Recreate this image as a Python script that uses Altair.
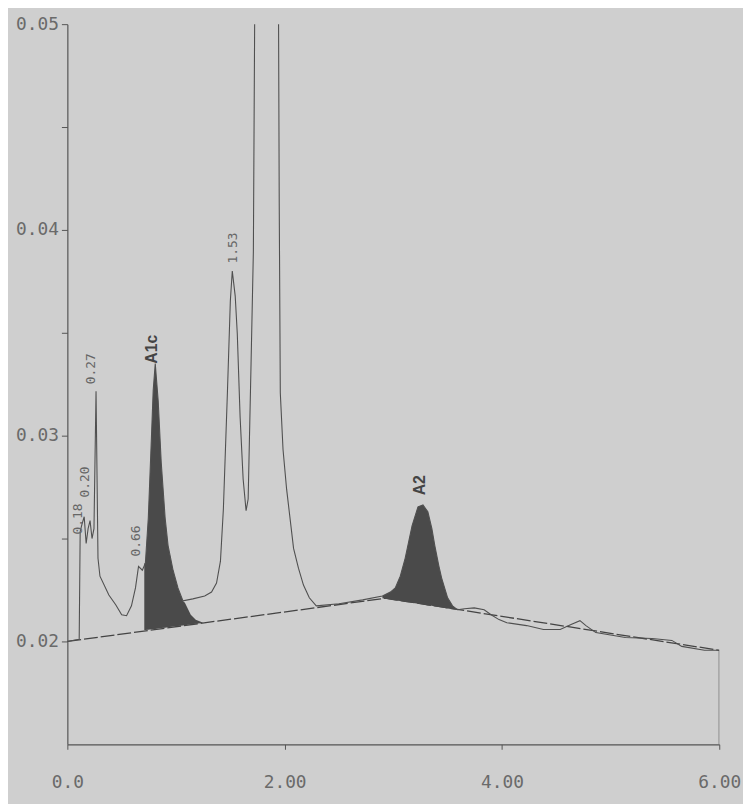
import altair as alt
import pandas as pd

# ---- main detector trace (time in min, absorbance) ----
trace_t = [0.000, 0.109, 0.118, 0.136, 0.155, 0.173, 0.191, 0.209, 0.227, 0.245,
           0.264, 0.282, 0.300, 0.382, 0.445, 0.500, 0.545, 0.590, 0.627, 0.655,
           0.690, 0.718, 0.745, 0.773, 0.790, 0.809, 0.836, 0.864, 0.900, 0.927,
           0.973, 1.018, 1.064, 1.155, 1.264, 1.327, 1.373, 1.409, 1.436, 1.455,
           1.473, 1.500, 1.518, 1.545, 1.564, 1.590, 1.618, 1.645, 1.664, 1.690,
           1.712, 1.745, 1.840, 1.930, 1.950, 1.960, 1.985, 2.018, 2.082, 2.127,
           2.173, 2.227, 2.291, 2.500, 2.718, 2.900, 2.973, 3.018, 3.064, 3.109,
           3.173, 3.227, 3.273, 3.318, 3.355, 3.382, 3.418, 3.445, 3.500, 3.545,
           3.590, 3.655, 3.745, 3.836, 3.900, 3.973, 4.045, 4.227, 4.382, 4.536,
           4.636, 4.718, 4.773, 4.864, 5.136, 5.382, 5.564, 5.655, 5.864, 6.000,
           6.000]
trace_v = [0.02000, 0.02010, 0.02534, 0.02572, 0.02606, 0.02476, 0.02548, 0.02587, 0.02500, 0.02548,
           0.03216, 0.02404, 0.02317, 0.02226, 0.02178, 0.02130, 0.02125, 0.02173, 0.02260, 0.02365,
           0.02346, 0.02380, 0.02600, 0.02980, 0.03220, 0.03350, 0.03170, 0.02870, 0.02600, 0.02466,
           0.02346, 0.02260, 0.02197, 0.02207, 0.02221, 0.02240, 0.02284, 0.02390, 0.02644, 0.02933,
           0.03207, 0.03654, 0.03800, 0.03678, 0.03495, 0.03091, 0.02788, 0.02635, 0.02692, 0.03332,
           0.03894, 0.07000, 0.12000, 0.07000, 0.04135, 0.03207, 0.02933, 0.02740, 0.02452, 0.02356,
           0.02274, 0.02212, 0.02173, 0.02183, 0.02202, 0.02221, 0.02240, 0.02260, 0.02317, 0.02404,
           0.02563, 0.02654, 0.02663, 0.02630, 0.02548, 0.02466, 0.02370, 0.02308, 0.02212, 0.02173,
           0.02154, 0.02159, 0.02163, 0.02154, 0.02130, 0.02106, 0.02091, 0.02077, 0.02058, 0.02058,
           0.02082, 0.02101, 0.02077, 0.02043, 0.02019, 0.02014, 0.02005, 0.01976, 0.01957, 0.01957,
           0.01500]

# ---- integration baseline ----
base_t = [0.0, 2.93, 6.0]
base_v = [0.0200, 0.0221, 0.01957]

# ---- shaded peak areas ----
a1c_t = [0.708, 0.718, 0.745, 0.773, 0.790, 0.809, 0.836, 0.864, 0.900, 0.927,
         0.973, 1.018, 1.064, 1.082, 1.136, 1.182, 1.245]
a1c_top = [0.02380, 0.02380, 0.02600, 0.02980, 0.03220, 0.03350, 0.03170, 0.02870, 0.02600, 0.02466,
           0.02346, 0.02260, 0.02197, 0.02188, 0.02130, 0.02106, 0.02092]
a1c_base = [0.02055, 0.02055, 0.02057, 0.02059, 0.02060, 0.02061, 0.02063, 0.02065, 0.02067, 0.02069,
            0.02072, 0.02075, 0.02078, 0.02079, 0.02083, 0.02086, 0.02090]

a2_t = [2.900, 2.973, 3.018, 3.064, 3.109, 3.173, 3.227, 3.273, 3.318, 3.355,
        3.382, 3.418, 3.445, 3.500, 3.545, 3.590]
a2_top = [0.02221, 0.02240, 0.02260, 0.02317, 0.02404, 0.02563, 0.02654, 0.02663, 0.02630, 0.02548,
          0.02466, 0.02370, 0.02308, 0.02212, 0.02173, 0.02154]
a2_base = [0.02210, 0.02202, 0.02199, 0.02196, 0.02192, 0.02188, 0.02183, 0.02179, 0.02175, 0.02173,
           0.02170, 0.02167, 0.02165, 0.02160, 0.02157, 0.02153]

# ---- peak labels ----
lab_text = ["0.18", "0.20", "0.27", "0.66", "1.53"]
lab_t = [0.100, 0.165, 0.218, 0.636, 1.527]
lab_v = [0.02520, 0.02700, 0.03250, 0.02413, 0.03837]

bold_text = ["A1c", "A2"]
bold_t = [0.775, 3.245]
bold_v = [0.03350, 0.02710]

trace = pd.DataFrame({"t": trace_t, "v": trace_v, "i": list(range(len(trace_t)))})
base = pd.DataFrame({"t": base_t, "v": base_v})
a1c = pd.DataFrame({"t": a1c_t, "top": a1c_top, "base": a1c_base})
a2 = pd.DataFrame({"t": a2_t, "top": a2_top, "base": a2_base})
labs = pd.DataFrame({"t": lab_t, "v": lab_v, "txt": lab_text})
blabs = pd.DataFrame({"t": bold_t, "v": bold_v, "txt": bold_text})

axis_font = "DejaVu Sans Mono"
xscale = alt.Scale(domain=[0, 6], nice=False, zero=False)
yscale = alt.Scale(domain=[0.015, 0.05], nice=False, zero=False)

xaxis = alt.Axis(values=[0, 2, 4, 6], title=None, grid=False,
                 labelExpr="datum.value == 0 ? '0.0' : format(datum.value, '.2f')",
                 labelFont=axis_font, labelFontSize=18, labelColor="#6a6a6a",
                 labelPadding=25, tickSize=5, tickColor="#555", domainColor="#555",
                 domainWidth=1.2, labelFlush=False)
yaxis = alt.Axis(values=[0.02, 0.025, 0.03, 0.035, 0.04, 0.045, 0.05], title=None, grid=False,
                 labelExpr="substring(format(datum.value, '.3f'), 4, 5) == '0' ? format(datum.value, '.2f') : ''",
                 labelFont=axis_font, labelFontSize=18, labelColor="#6a6a6a",
                 labelPadding=3, tickSize=6, tickColor="#555", domainColor="#555",
                 domainWidth=1.2)

baseline = alt.Chart(base).mark_line(color="#444", strokeWidth=1.3, strokeDash=[14, 3], clip=True).encode(
    x=alt.X("t:Q", scale=xscale, axis=xaxis),
    y=alt.Y("v:Q", scale=yscale, axis=yaxis),
)

fill1 = alt.Chart(a1c).mark_area(color="#4a4a4a", opacity=1, clip=True).encode(
    x=alt.X("t:Q", scale=xscale), y=alt.Y("top:Q", scale=yscale), y2="base:Q")
fill2 = alt.Chart(a2).mark_area(color="#4a4a4a", opacity=1, clip=True).encode(
    x=alt.X("t:Q", scale=xscale), y=alt.Y("top:Q", scale=yscale), y2="base:Q")

line = alt.Chart(trace).mark_line(color="#505050", strokeWidth=1.1, clip=True).encode(
    x=alt.X("t:Q", scale=xscale), y=alt.Y("v:Q", scale=yscale), order="i:Q")

texts = alt.Chart(labs).mark_text(angle=270, align="left", baseline="middle",
                                  font=axis_font, fontSize=13, color="#666").encode(
    x=alt.X("t:Q", scale=xscale), y=alt.Y("v:Q", scale=yscale), text="txt:N")

btexts = alt.Chart(blabs).mark_text(angle=270, align="left", baseline="middle",
                                    font="Liberation Sans", fontSize=16, fontWeight="bold",
                                    color="#444").encode(
    x=alt.X("t:Q", scale=xscale), y=alt.Y("v:Q", scale=yscale), text="txt:N")

chart = alt.layer(baseline, fill1, fill2, line, texts, btexts).properties(
    width=659, height=728,
    autosize=alt.AutoSizeParams(type="none"),
    padding={"left": 60, "top": 12, "right": 24, "bottom": 56},
    background="#cfcfcf",
).configure_view(stroke=None)

chart.save("out.html", embed_options={"renderer": "svg", "actions": False})
